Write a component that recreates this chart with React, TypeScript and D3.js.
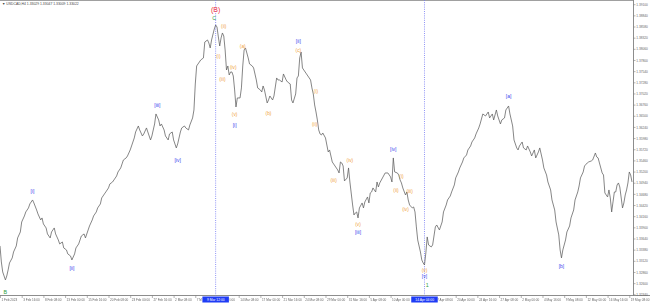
import React from "react";
import * as d3 from "d3";

const W = 650;
const H = 304;

// bar index (H4 bars from 1 Feb 2023) and close prices
const bars = [0,1,2,4,5,6,7,9,10,12,13,15,16,18,19,21,22,24,25,27,28,30,31,32,34,35,37,38,40,41,43,44,46,47,49,50,52,53,55,56,58,59,60,62,63,65,66,68,69,71,72,74,75,77,78,80,81,83,84,86,87,89,90,91,93,94,96,97,99,100,102,103,105,106,108,109,111,112,114,115,117,118,119,121,122,124,125,127,128,130,131,133,134,136,137,139,140,142,143,144,145,147,148,150,151,153,154,155,156,158,159,160,161,162,163,164,165,166,167,168,169,170,171,172,173,174,175,177,178,179,180,181,183,184,186,187,189,190,192,193,194,195,197,198,199,201,202,204,205,206,208,209,211,212,214,215,216,218,219,220,221,222,223,225,226,229,230,231,232,233,234,235,236,237,238,240,242,243,245,246,249,250,251,252,253,254,256,257,258,260,261,262,263,264,265,267,268,269,271,272,273,274,275,277,278,279,280,282,284,286,288,289,290,291,293,294,295,296,297,299,300,301,302,304,305,306,307,308,310,311,312,313,314,315,316,318,319,321,322,324,326,327,329,330,332,333,335,336,338,339,341,342,344,345,347,348,350,351,353,354,356,358,360,361,363,364,366,367,369,370,372,373,375,376,378,379,381,382,383,385,386,388,389,391,392,394,395,397,398,400,401,403,404,406,407,409,410,412,413,414,415,417,418,420,421,423,424,426,427,428,430,431,433,434,436,437,439,440,441,442,444,445,446,448,449,450,451,452,453,454,455,456,457,459,460,461,462,463,464,465,466];
const closes = [1.33478,1.33105,1.32872,1.32686,1.32779,1.32919,1.33082,1.33199,1.33338,1.33478,1.33665,1.33804,1.34037,1.34177,1.34270,1.34364,1.34457,1.34550,1.34480,1.34317,1.34224,1.34084,1.34131,1.33991,1.33898,1.33758,1.33665,1.33804,1.33898,1.33758,1.33618,1.33525,1.33571,1.33432,1.33385,1.33292,1.33245,1.33152,1.33292,1.33432,1.33525,1.33618,1.33711,1.33758,1.33665,1.33851,1.33944,1.34084,1.34177,1.34270,1.34364,1.34457,1.34597,1.34690,1.34736,1.34830,1.34923,1.34969,1.35016,1.35109,1.35202,1.35296,1.35389,1.35482,1.35529,1.35575,1.35715,1.35808,1.35995,1.36134,1.36274,1.36181,1.36041,1.36088,1.36228,1.36134,1.35948,1.36041,1.36321,1.36554,1.36414,1.36274,1.36321,1.36181,1.36041,1.35948,1.36088,1.36134,1.35948,1.35762,1.35855,1.36134,1.36228,1.36274,1.36228,1.36181,1.36297,1.36461,1.36647,1.37253,1.37672,1.37765,1.37812,1.37859,1.38231,1.38278,1.38208,1.38092,1.38278,1.38534,1.38627,1.38581,1.38348,1.38138,1.38325,1.38441,1.38371,1.38045,1.37579,1.37672,1.37462,1.37532,1.37532,1.37439,1.37113,1.36717,1.36927,1.36927,1.37160,1.37672,1.38045,1.38092,1.37859,1.37719,1.37672,1.37626,1.37346,1.37160,1.37113,1.37066,1.37206,1.37113,1.36810,1.36880,1.36973,1.36880,1.36973,1.37393,1.37346,1.37346,1.37299,1.37486,1.37346,1.37299,1.37253,1.36880,1.36810,1.37020,1.37393,1.37439,1.37859,1.37998,1.37626,1.37532,1.37486,1.37346,1.37160,1.37020,1.36763,1.36600,1.36414,1.36181,1.36088,1.36064,1.36111,1.35995,1.35668,1.35715,1.35435,1.35389,1.35249,1.35179,1.35435,1.35412,1.35342,1.34993,1.35063,1.35296,1.34969,1.34433,1.34200,1.34247,1.34270,1.34131,1.34364,1.34480,1.34364,1.34503,1.34620,1.34480,1.34713,1.34736,1.34830,1.34736,1.34969,1.34853,1.34946,1.35063,1.35179,1.35179,1.35086,1.34969,1.35529,1.35202,1.35179,1.35132,1.35016,1.34946,1.34830,1.34666,1.34736,1.34550,1.34433,1.34364,1.34387,1.34270,1.33921,1.33618,1.33338,1.33152,1.33082,1.33035,1.33315,1.33688,1.33501,1.33455,1.33501,1.33921,1.33967,1.33851,1.34037,1.34270,1.34433,1.34550,1.34643,1.34736,1.34899,1.35063,1.35202,1.35296,1.35435,1.35529,1.35598,1.35715,1.35808,1.35901,1.35995,1.36088,1.36228,1.36321,1.36554,1.36507,1.36600,1.36461,1.36554,1.36414,1.36647,1.36507,1.36321,1.36414,1.36461,1.36647,1.36740,1.36554,1.36274,1.35948,1.35762,1.35715,1.35808,1.35901,1.35762,1.35715,1.35808,1.35668,1.35575,1.35715,1.35529,1.35668,1.35762,1.35482,1.35296,1.35132,1.34969,1.34783,1.34550,1.34317,1.34037,1.33735,1.33385,1.33199,1.33385,1.33618,1.33804,1.33944,1.34131,1.34317,1.34550,1.34736,1.34876,1.35063,1.35202,1.35342,1.35412,1.35435,1.35459,1.35482,1.35645,1.35552,1.35529,1.35412,1.35179,1.35132,1.34713,1.34620,1.34783,1.34597,1.34270,1.34503,1.34736,1.34736,1.34899,1.34946,1.34853,1.34364,1.34480,1.34666,1.34783,1.34946,1.35202,1.35132,1.34969];

// price axis labels
const priceTicks = [1.391,1.3884,1.3858,1.3832,1.3806,1.378,1.3754,1.3728,1.3702,1.3676,1.365,1.3624,1.3598,1.3572,1.3546,1.352,1.3494,1.3468,1.3442,1.3416,1.339,1.3364,1.3338,1.3312,1.3286,1.326,1.3234];

// time axis labels (every 16 bars)
const timeTickBars = [0,16,32,48,64,80,96,112,128,144,160,176,192,208,224,240,256,272,288,304,320,336,352,368,384,400,416,432,448,464];
const timeTickLabels = ["1 Feb 2023","3 Feb 16:00","8 Feb 08:00","13 Feb 00:00","15 Feb 16:00","20 Feb 08:00","23 Feb 00:00","27 Feb 16:00","2 Mar 08:00","7 Mar 00:00","9 Mar 16:00","14 Mar 08:00","17 Mar 00:00","21 Mar 16:00","24 Mar 08:00","29 Mar 00:00","31 Mar 16:00","5 Apr 08:00","10 Apr 00:00","12 Apr 16:00","17 Apr 08:00","20 Apr 00:00","24 Apr 16:00","27 Apr 08:00","2 May 00:00","4 May 16:00","9 May 08:00","12 May 00:00","16 May 16:00","19 May 08:00"];

// vertical marker lines
const vlineBars = [159, 313];
const vlineLabels = ["9 Mar 12:00", "14 Apr 04:00"];

// wave labels
const waveTexts = ["B","[i]","[ii]","[iii]","[iv]","(B)","C","(ii)","(i)","(iii)","(iv)","(v)","[i]","(a)","(b)","[ii]","(c)","(i)","(ii)","(iii)","(iv)","(v)","[iii]","[iv]","(i)","(ii)","(iii)","(iv)","(v)","[v]","1","[a]","[b]"];
const waveBars = [4,24,53,116,131,159,158,165,161,164,172,173,173,179,198,220,220,233,232,246,258,264,264,290,296,292,302,299,313,313,315,375,414];
const wavePrices = [1.32406,1.34760,1.32966,1.36763,1.35482,1.39000,1.38791,1.38604,1.37905,1.37369,1.37649,1.36554,1.36297,1.38138,1.36577,1.38255,1.38045,1.37090,1.36321,1.35016,1.35482,1.33991,1.33804,1.35738,1.35109,1.34783,1.34760,1.34340,1.32919,1.32779,1.32570,1.36973,1.33012];
const waveKinds = ["green","blue","blue","blue","blue","red","green","orange","orange","orange","orange","orange","blue","orange","orange","blue","orange","orange","orange","orange","orange","orange","blue","blue","orange","orange","orange","orange","orange","blue","green","blue","blue"];

const kindColor: Record<string, string> = {
  blue: "#3b44ee",
  orange: "#f0a23c",
  green: "#2f9e3c",
  red: "#ee2a40",
};
const kindSize: Record<string, number> = { blue: 5, orange: 4.8, green: 5.4, red: 7 };

export default function App() {
  const x = d3.scaleLinear().domain([0, 466]).range([0, 632]);
  const y = d3.scaleLinear().domain([1.3234, 1.391]).range([294.8, 4.7]);
  const pts = bars.map((b, i) => [b, closes[i]] as [number, number]);
  const line = d3
    .line<[number, number]>()
    .x((d) => x(d[0]))
    .y((d) => y(d[1]));
  const axisX = 633.5;
  const axisY = 295.5;
  const font = "'Liberation Sans', Arial, sans-serif";
  const boxW = 26.5;
  // a time label fully hidden under a marker box is not drawn
  const hidden = (b: number) =>
    vlineBars.some((v) => x(b) + 1.5 >= x(v) - boxW / 2 - 1 && x(b) + 18 <= x(v) + boxW / 2 + 1);

  return (
    <>
      <style>{`body{margin:0}`}</style>
      <svg width={W} height={H} style={{ display: "block", background: "#fff" }} fontFamily={font}>
        <defs>
          <mask id="boxmask" maskUnits="userSpaceOnUse" x={0} y={0} width={W} height={H}>
            <rect x={0} y={0} width={W} height={H} fill="#fff" />
            {vlineBars.map((b, i) => (
              <rect key={"m" + i} x={x(b) - boxW / 2 - 0.5} y={290} width={boxW + 1} height={14} fill="#000" />
            ))}
          </mask>
        </defs>
        <rect x={0} y={0} width={W} height={H} fill="#fff" />
        {/* frame */}
        <line x1={0} x2={axisX} y1={0.5} y2={0.5} stroke="#a0a0a0" strokeWidth={1} />
        <line x1={axisX} x2={axisX} y1={0} y2={axisY} stroke="#808080" strokeWidth={0.9} />
        <line x1={0} x2={W} y1={axisY} y2={axisY} stroke="#808080" strokeWidth={0.9} />

        {/* header */}
        <text x={2} y={5.3} fontSize={3.4} fill="#444">
          {"\u25BC USDCAD,H4  1.33029 1.33047 1.33009 1.33022"}
        </text>

        {/* vertical lines */}
        {vlineBars.map((b, i) => (
          <line
            key={"vl" + i}
            x1={x(b)}
            x2={x(b)}
            y1={0}
            y2={axisY}
            stroke="#7479f2"
            strokeWidth={0.8}
            strokeDasharray="1,1.2"
          />
        ))}

        {/* price line */}
        <path d={line(pts) || ""} fill="none" stroke="#5e5e5e" strokeWidth={0.75} strokeLinejoin="round" />

        {/* price axis */}
        {priceTicks.map((v, i) => (
          <g key={"pt" + i}>
            <line x1={axisX} x2={axisX + 2} y1={y(v)} y2={y(v)} stroke="#808080" strokeWidth={0.6} />
            <text x={axisX + 2.8} y={y(v) + 1.15} fontSize={3.2} fill="#666">
              {v.toFixed(5)}
            </text>
          </g>
        ))}

        {/* time axis */}
        <g mask="url(#boxmask)">
          {timeTickBars.map((b, i) => {
            const last = i === timeTickBars.length - 1;
            return (
              <g key={"tt" + i}>
                <line x1={x(b) + 0.5} x2={x(b) + 0.5} y1={axisY} y2={axisY + 2.5} stroke="#808080" strokeWidth={0.6} />
                {!hidden(b) && (
                  <text
                    x={last ? W - 0.5 : x(b) + 1.5}
                    y={300.6}
                    fontSize={3.1}
                    fill="#666"
                    textAnchor={last ? "end" : "start"}
                  >
                    {timeTickLabels[i]}
                  </text>
                )}
              </g>
            );
          })}
        </g>

        {/* vertical line labels */}
        {vlineBars.map((b, i) => (
          <g key={"vb" + i}>
            <rect x={x(b) - boxW / 2} y={296.5} width={boxW} height={6} fill="#1f3cf5" />
            <text x={x(b) + 0.2} y={300.7} fontSize={3.3} fill="#fff" textAnchor="middle">
              {vlineLabels[i]}
            </text>
          </g>
        ))}

        {/* wave labels */}
        {waveTexts.map((t, i) => {
          const k = waveKinds[i];
          const s = kindSize[k];
          return (
            <text
              key={"w" + i}
              x={x(waveBars[i])}
              y={y(wavePrices[i]) + s * 0.36}
              fontSize={s}
              fill={kindColor[k]}
              textAnchor="middle"
            >
              {t}
            </text>
          );
        })}
      </svg>
    </>
  );
}
